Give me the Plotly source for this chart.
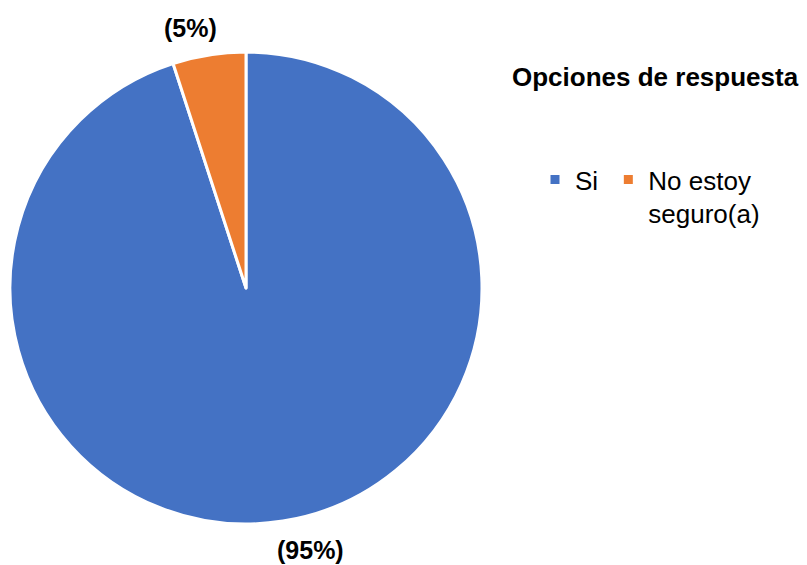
import plotly.graph_objects as go

categories = ["Si\u2009", "No estoy<br>seguro(a)"]
values = [95, 5]
colors = ["#4472C4", "#ED7D31"]
legend_title = "Opciones de respuesta"

total = sum(values)
pct_labels = [f"({v / total * 100:.0f}%)" for v in values]

W, H = 807, 565
OFF = 8  # page body margin offset
font = "Liberation Sans, Arial, sans-serif"


def px(x):
    return (x - OFF) / W


def py(y):
    return 1 - (y - OFF) / H


fig = go.Figure(go.Pie(
    labels=categories,
    values=values,
    sort=False,
    direction="clockwise",
    rotation=0,
    marker=dict(colors=colors, line=dict(color="white", width=3)),
    textinfo="none",
    hoverinfo="label+percent",
    domain=dict(x=[px(10), px(482)], y=[py(524), py(52)]),
))

label_pos = [(310, 550), (190, 28)]
for txt, (lx, ly) in zip(pct_labels, label_pos):
    fig.add_annotation(x=px(lx), y=py(ly), xref="paper", yref="paper",
                       text=f"<b>{txt}</b>", showarrow=False,
                       font=dict(family=font, size=25, color="black"),
                       xanchor="center", yanchor="middle")

fig.add_annotation(x=px(510), y=py(77), xref="paper", yref="paper",
                   text=f"<b>{legend_title}</b>", showarrow=False,
                   font=dict(family=font, size=26, color="black"),
                   xanchor="left", yanchor="middle")

fig.update_layout(
    width=W, height=H,
    margin=dict(l=0, r=0, t=0, b=0),
    paper_bgcolor="white",
    plot_bgcolor="white",
    showlegend=True,
    legend=dict(orientation="h", x=px(535), y=py(156),
                xanchor="left", yanchor="top", valign="top",
                font=dict(family=font, size=26, color="black"),
                traceorder="normal", bgcolor="rgba(0,0,0,0)"),
)

fig.write_html("out.html")
